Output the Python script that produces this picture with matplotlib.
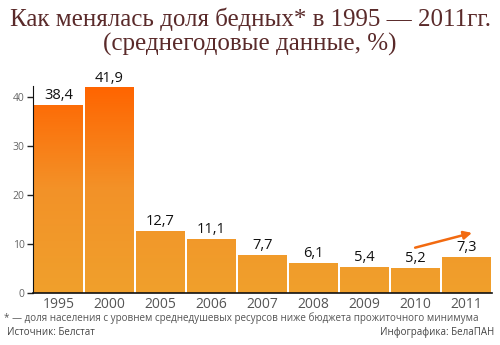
import matplotlib
matplotlib.use("Agg")
import matplotlib.pyplot as plt
import numpy as np
from matplotlib.colors import LinearSegmentedColormap
from matplotlib.patches import FancyArrowPatch

years = ["1995", "2000", "2005", "2006", "2007", "2008", "2009", "2010", "2011"]
values = [38.4, 41.9, 12.7, 11.1, 7.7, 6.1, 5.4, 5.2, 7.3]
labels = ["38,4", "41,9", "12,7", "11,1", "7,7", "6,1", "5,4", "5,2", "7,3"]
yticks = [0, 10, 20, 30, 40]

title = "Как менялась доля бедных* в 1995 — 2011гг.\n(среднегодовые данные, %)"
footnote = "* — доля населения с уровнем среднедушевых ресурсов ниже бюджета прожиточного минимума"
source = "Источник: Белстат"
credit = "Инфографика: БелаПАН"

plt.rcParams['font.family'] = ['Open Sans', 'DejaVu Sans']

fig = plt.figure(figsize=(5, 3.45), dpi=100)
ax = fig.add_axes([0.066, 0.1507, 0.918, 0.60])
ymax = 42.2
ax.set_xlim(-0.5, len(years) - 0.5)
ax.set_ylim(0, ymax)

cmap = LinearSegmentedColormap.from_list("o", ["#F0A02C", "#F39228", "#FF6400"])
grad = np.linspace(0, 1, 256).reshape(-1, 1)
x = np.arange(len(years))
bars = ax.bar(x, values, width=0.96, color="none", edgecolor="none")
for b in bars:
    im = ax.imshow(grad, extent=[-0.5, len(years) - 0.5, 0, ymax], origin="lower",
                   cmap=cmap, aspect="auto", zorder=1)
    im.set_clip_path(b)

for xi, v, lab in zip(x, values, labels):
    ax.text(xi, v + 0.4, lab, ha="center", va="bottom", fontsize=10.5, color="#111111",
            clip_on=False)

ax.set_xticks(x)
ax.set_xticklabels(years, fontsize=10, color="#555555")
ax.set_yticks(yticks)
ax.set_yticklabels([str(t) for t in yticks], fontsize=7.5, color="#666666")
ax.tick_params(axis="x", length=0, pad=3)
ax.tick_params(axis="y", length=4, width=1, color="#222222", pad=2)
for s in ["top", "right"]:
    ax.spines[s].set_visible(False)
ax.spines["left"].set_color("#111111")
ax.spines["bottom"].set_color("#111111")
ax.spines["bottom"].set_linewidth(1.2)

arrow = FancyArrowPatch((6.94, 9.1), (8.16, 12.4), arrowstyle="-|>", mutation_scale=12,
                        color="#F26A10", lw=1.8, zorder=5, clip_on=False)
ax.add_patch(arrow)

fig.text(0.5, 0.907, title, ha="center", va="center", fontsize=18, color="#5A2A2A",
         family=["Liberation Serif", "DejaVu Serif"], linespacing=1.12)
fig.text(0.008, 0.078, footnote, ha="left", va="center", fontsize=7.1, color="#555555")
fig.text(0.014, 0.035, source, ha="left", va="center", fontsize=7, color="#444444")
fig.text(0.988, 0.035, credit, ha="right", va="center", fontsize=7, color="#444444")

fig.savefig("out.png", dpi=100)
